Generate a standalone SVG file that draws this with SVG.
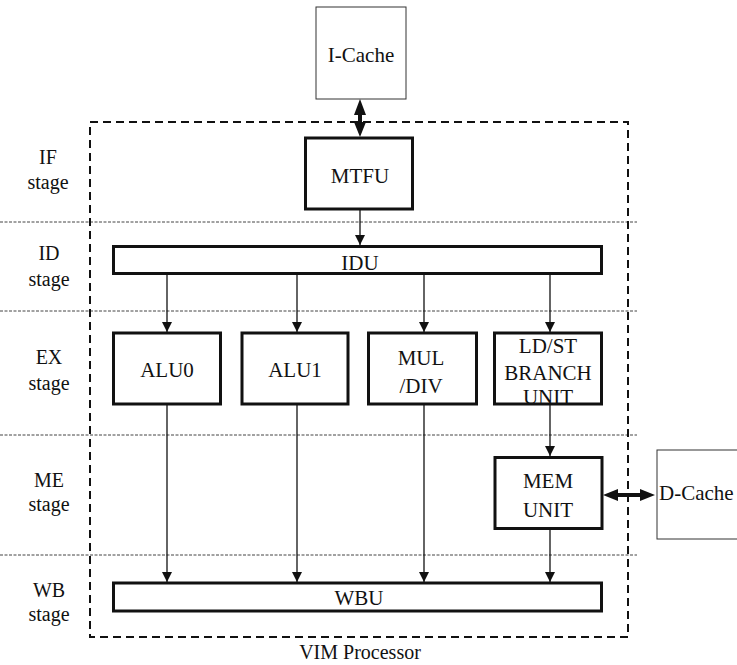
<svg xmlns="http://www.w3.org/2000/svg" width="737" height="665" viewBox="0 0 737 665" font-family="'Liberation Serif', 'DejaVu Serif', serif">
<style>
text{font-family:"Liberation Serif","DejaVu Serif",serif;font-size:21px;fill:#111;text-anchor:middle}
.lbl{font-size:20px}
.thick{fill:#fff;stroke:#111;stroke-width:3}
.thin{fill:#fff;stroke:#333;stroke-width:1}
.sep{stroke:#444;stroke-width:1;stroke-dasharray:3,1.5;fill:none}
.frame{fill:none;stroke:#111;stroke-width:2;stroke-dasharray:8,5}
.arr{stroke:#111;stroke-width:1.3;fill:none;marker-end:url(#ah)}
.big{fill:#111;stroke:none}
</style>
<defs>
<marker id="ah" viewBox="0 0 10 10" refX="10" refY="5" markerWidth="10" markerHeight="10" markerUnits="userSpaceOnUse" orient="auto">
<path d="M0,0 L10,5 L0,10 z" fill="#111"/>
</marker>
</defs>
<rect width="737" height="665" fill="#fff"/>
<g id="separators">
<line class="sep" x1="0" y1="222" x2="637" y2="222"/>
<line class="sep" x1="0" y1="311" x2="637" y2="311"/>
<line class="sep" x1="0" y1="435" x2="637" y2="435"/>
<line class="sep" x1="0" y1="555" x2="637" y2="555"/>
</g>
<g id="vim-processor">
<rect class="frame" x="90" y="122" width="538" height="515"/>
<text class="lbl" x="360" y="659">VIM Processor</text>
</g>
<g id="stage-labels">
<text class="lbl" x="48" y="164">IF</text><text class="lbl" x="48" y="189">stage</text>
<text class="lbl" x="49" y="260">ID</text><text class="lbl" x="49" y="286">stage</text>
<text class="lbl" x="49" y="364">EX</text><text class="lbl" x="49" y="390">stage</text>
<text class="lbl" x="49" y="487">ME</text><text class="lbl" x="49" y="511">stage</text>
<text class="lbl" x="49" y="597">WB</text><text class="lbl" x="49" y="621">stage</text>
</g>
<g id="icache"><rect class="thin" x="316" y="7" width="90" height="92"/><text x="361" y="62">I-Cache</text></g>
<g id="mtfu"><rect class="thick" x="305.5" y="138" width="107" height="71"/><text x="360" y="183">MTFU</text></g>
<g id="idu"><rect class="thick" x="113.5" y="246.5" width="488" height="27"/><text x="360" y="270">IDU</text></g>
<g id="alu0"><rect class="thick" x="113.5" y="333" width="107" height="71"/><text x="167" y="377">ALU0</text></g>
<g id="alu1"><rect class="thick" x="242" y="333" width="106" height="71"/><text x="295" y="377">ALU1</text></g>
<g id="muldiv"><rect class="thick" x="368.5" y="333" width="108" height="71"/><text x="421" y="365">MUL</text><text x="421" y="393">/DIV</text></g>
<g id="ldst"><rect class="thick" x="494.5" y="333" width="107" height="71"/><text x="548" y="353">LD/ST</text><text x="548" y="380">BRANCH</text><text x="548" y="404">UNIT</text></g>
<g id="mem"><rect class="thick" x="495" y="457.5" width="107" height="71"/><text x="548" y="488">MEM</text><text x="548" y="517">UNIT</text></g>
<g id="dcache"><rect class="thin" x="657" y="450" width="90" height="89"/><text x="659" y="500" style="text-anchor:start">D-Cache</text></g>
<g id="wbu"><rect class="thick" x="113.5" y="583" width="488" height="28"/><text x="359" y="605">WBU</text></g>
<g id="connectors">
<path class="big" d="M360,99 L366,115 L362,115 L362,122 L366,122 L360,137 L354,122 L358,122 L358,115 L354,115 z"/>
<path class="big" d="M603,495 L618,489 L618,493 L640,493 L640,489 L655,495 L640,501 L640,497 L618,497 L618,501 z"/>
<line class="arr" x1="360" y1="210" x2="360" y2="245"/>
<line class="arr" x1="167" y1="275" x2="167" y2="332"/>
<line class="arr" x1="297" y1="275" x2="297" y2="332"/>
<line class="arr" x1="424" y1="275" x2="424" y2="332"/>
<line class="arr" x1="550" y1="275" x2="550" y2="332"/>
<line class="arr" x1="167" y1="405" x2="167" y2="582"/>
<line class="arr" x1="297" y1="405" x2="297" y2="582"/>
<line class="arr" x1="424" y1="405" x2="424" y2="582"/>
<line class="arr" x1="550" y1="405" x2="550" y2="456"/>
<line class="arr" x1="550" y1="529" x2="550" y2="582"/>
</g>
</svg>
